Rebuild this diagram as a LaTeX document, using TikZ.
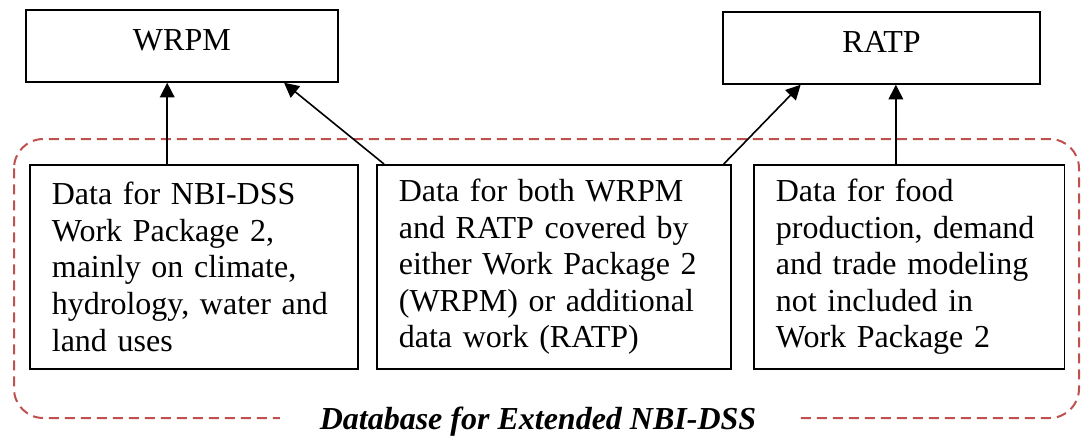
\documentclass[tikz,border=0pt]{standalone}
\usepackage{fontspec}
\setmainfont{Liberation Serif}
\usetikzlibrary{arrows.meta}
\definecolor{dbred}{HTML}{C0504D}

\begin{document}
\begin{tikzpicture}[x=0.75pt, y=-0.75pt,
    modelbox/.style={draw=black, line width=1.3pt, inner sep=0pt, anchor=north west, text height=30.5pt, text depth=23.5pt, font=\fontsize{24}{28}\selectfont},
    databox/.style={draw=black, line width=1.3pt, anchor=north west, align=left, minimum height=153pt, inner xsep=16.5pt, font=\fontsize{24}{27.4}\selectfont},
    flow/.style={-{Triangle[length=11pt,width=11pt]}, line width=1.2pt}]
    \useasboundingbox (0,0) rectangle (1082,437);

    \draw[dbred, line width=1.5pt, dash pattern=on 7.5pt off 4.5pt, rounded corners=22pt] (14,139) rectangle (1079,418);
    \node[font=\fontsize{24}{28}\selectfont\bfseries\itshape, fill=white, inner xsep=30pt, inner ysep=1pt, anchor=base] (dblabel) at (538,429) {Database for Extended NBI-DSS};

    \node[modelbox, minimum width=234pt] (wrpm) at (25,9) {WRPM};
    \node[modelbox, minimum width=238pt] (ratp) at (722,11) {RATP};

    \node[databox, text width=213pt] (nbi) at (29,164) {Data for NBI-DSS\\Work Package 2,\\mainly on climate,\\hydrology, water and\\land uses};
    \node[databox, text width=232.5pt] (both) at (376,164) {Data for both WRPM\\and RATP covered by\\either Work Package 2\\(WRPM) or additional\\data work (RATP)};
    \node[databox, text width=200pt] (food) at (753,164) {Data for food\\production, demand\\and trade modeling\\not included in\\Work Package 2};

    \draw[flow] ([xshift=-20pt]nbi.north) -- ([xshift=-20pt]nbi.north |- wrpm.south);
    \draw[flow] ([xshift=6pt]both.north west) -- ([xshift=-41pt]wrpm.south east);
    \draw[flow] ([xshift=-6pt]both.north east) -- ([xshift=59pt]ratp.south west);
    \draw[flow] ([xshift=-10pt]food.north) -- ([xshift=-10pt]food.north |- ratp.south);
\end{tikzpicture}
\end{document}
